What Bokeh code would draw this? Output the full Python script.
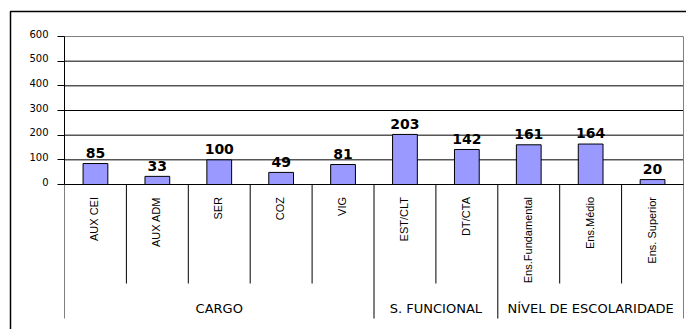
import numpy as np
from bokeh.plotting import figure
from bokeh.models import Range1d, LinearAxis, FixedTicker
from bokeh.core.properties import value
from bokeh.embed import file_html
from bokeh.resources import INLINE

# --- data -------------------------------------------------------------
categories = ["AUX CEI", "AUX ADM", "SER", "COZ", "VIG",
              "EST/CLT", "DT/CTA",
              "Ens.Fundamental", "Ens.Médio", "Ens. Superior"]
counts = [85, 33, 100, 49, 81, 203, 142, 161, 164, 20]
groups = ["CARGO", "S. FUNCIONAL", "NÍVEL DE ESCOLARIDADE"]
group_sizes = [5, 2, 3]
y_ticks = [0, 100, 200, 300, 400, 500, 600]

# --- layout (screen pixels) -------------------------------------------
W, H = 686, 329
BOX_L, BOX_R, BOX_T, BOX_B = 64, 683, 36, 184   # value area
SUB_BOTTOM = 283      # end of the separators between categories
GROUP_BOTTOM = 318    # end of the separators between groups
LABEL_RAISE = 3       # tick labels sit slightly above their tick

n = len(categories)
ymax = y_ticks[-1]
kx = (BOX_R - BOX_L) / n      # pixels per category slot
ky = (BOX_B - BOX_T) / ymax   # pixels per unit of value


def dx(px):
    return (px - BOX_L) / kx


def dy(py):
    return (BOX_B - py) / ky


p = figure(width=W, height=H,
           x_range=Range1d(dx(0), dx(W)), y_range=Range1d(dy(H), dy(0)),
           x_axis_type=None, y_axis_type=None,
           toolbar_location=None, output_backend="svg",
           min_border=0, outline_line_color=None,
           background_fill_color="white", border_fill_color="white")
# same scale, nudged up, used only for the tick labels
p.extra_y_ranges = {"labels": Range1d(dy(H) - LABEL_RAISE / ky,
                                      dy(0) - LABEL_RAISE / ky)}

centers = np.arange(n) + 0.5
edges = np.cumsum([0] + group_sizes)

# outer frame
p.line(x=[dx(10), dx(10), dx(W + 5)], y=[dy(H + 5), dy(11), dy(11)],
       line_color="black", line_width=1.5)

# horizontal grid lines
grid_vals = [t for t in y_ticks if 0 < t < ymax]
p.segment(x0=0, x1=n, y0=grid_vals, y1=grid_vals,
          line_color="black", line_width=1)

# grey box edges (top, right) and outer table edges
p.segment(x0=0, x1=n, y0=ymax, y1=ymax, line_color="#808080", line_width=1)
p.segment(x0=[0, n], x1=[0, n], y0=[0, ymax], y1=[dy(GROUP_BOTTOM)] * 2,
          line_color="#808080", line_width=1)

# separators between categories and between groups
inner = [i for i in range(1, n) if i not in edges]
p.segment(x0=inner, x1=inner, y0=0, y1=dy(SUB_BOTTOM),
          line_color="black", line_width=1)
mid_edges = [int(e) for e in edges[1:-1]]
p.segment(x0=mid_edges, x1=mid_edges, y0=0, y1=dy(GROUP_BOTTOM),
          line_color="black", line_width=1)

# zero line
p.segment(x0=0, x1=n, y0=0, y1=0, line_color="black", line_width=1)

# bars
p.vbar(x=centers, top=counts, bottom=0, width=0.4,
       fill_color="#9999FF", line_color="black", line_width=1)

# value labels
p.text(x=centers, y=[c + 10.8 / ky for c in counts],
       text=[str(c) for c in counts],
       text_align="center", text_baseline="alphabetic",
       text_font=value("DejaVu Sans"), text_font_style="bold",
       text_font_size="14px", text_color="black")

# category labels (rotated)
p.text(x=centers - 1 / kx, y=dy(196.5), text=categories,
       angle=np.pi / 2, text_align="right", text_baseline="alphabetic",
       text_font=value("Liberation Sans"), text_font_size="11px",
       text_color="black")

# group labels
group_centers = [(edges[i] + edges[i + 1]) / 2 for i in range(len(groups))]
p.text(x=group_centers, y=dy(307.5), text=groups,
       text_align="center", text_baseline="alphabetic",
       text_font=value("DejaVu Sans"), text_font_size="13px",
       text_color="black")

# value axis: line and ticks
yaxis = LinearAxis(fixed_location=0, ticker=FixedTicker(ticks=y_ticks),
                   bounds=(0, ymax),
                   axis_line_color="black", axis_line_width=1,
                   major_tick_line_color="black", major_tick_out=7,
                   major_tick_in=0, minor_tick_line_color=None,
                   major_label_text_font_size="0px",
                   major_label_text_color=None)
p.add_layout(yaxis, "left")

# value axis: tick labels
ylabels = LinearAxis(fixed_location=0, y_range_name="labels",
                     ticker=FixedTicker(ticks=y_ticks), bounds=(0, ymax),
                     axis_line_color=None, major_tick_line_color=None,
                     major_tick_out=7, major_tick_in=0,
                     minor_tick_line_color=None,
                     major_label_standoff=9,
                     major_label_text_font="DejaVu Sans",
                     major_label_text_font_size="10px",
                     major_label_text_color="black")
p.add_layout(ylabels, "left")

open("out.html", "w").write(file_html(p, INLINE))
